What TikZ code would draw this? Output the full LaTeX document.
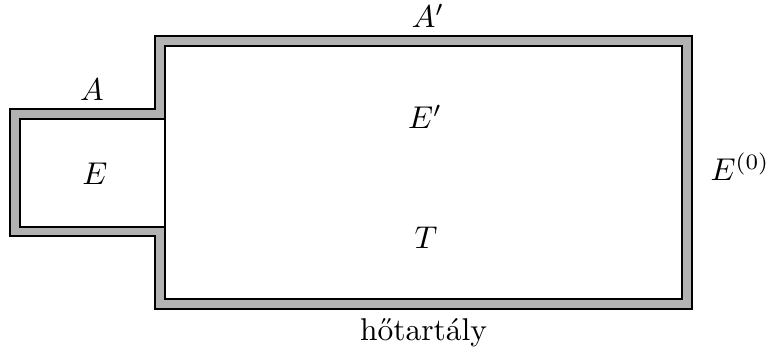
\documentclass[tikz,border=0pt]{standalone}
\begin{document}
\begin{tikzpicture}[x=0.3175pt,y=-0.3175pt,
  wall/.style={fill=black!30,draw=black,line width=0.35pt},
  cavity/.style={fill=white,draw=black,line width=0.35pt},
  lbl/.style={inner sep=0pt,anchor=base}]
\useasboundingbox (0,0) rectangle (766,355);
\draw[wall] (10,109) -- (155,109) -- (155,36) -- (692,36) -- (692,309) -- (155,309) -- (155,236) -- (10,236) -- cycle;
\draw[cavity] (20,119) -- (165,119) -- (165,46) -- (682,46) -- (682,299) -- (165,299) -- (165,227) -- (20,227) -- cycle;
\coordinate (pt) at (165,119);
\coordinate (pb) at (165,227);
\draw[line width=0.35pt] (pt) -- (pb);
\node[lbl] (Ap) at (428,28) {$A'$};
\node[lbl] (A) at (92,101) {$A$};
\node[lbl] (E) at (95,185) {$E$};
\node[lbl] (Ep) at (425,129) {$E'$};
\node[lbl] (T) at (426,249) {$T$};
\node[lbl,anchor=base west] (E0) at (710,181) {$E^{(0)}$};
\node[lbl] (h) at (423.5,341) {hőtartály};
\end{tikzpicture}
\end{document}
